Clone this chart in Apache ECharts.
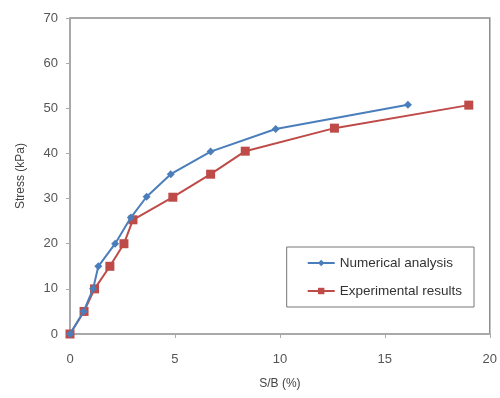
<!DOCTYPE html>
<html><head><meta charset="utf-8">
<script src="https://cdn.jsdelivr.net/npm/echarts@6/dist/echarts.min.js"></script>
<style>html,body{margin:0;padding:0;background:#fff}#c{width:500px;height:398px}</style>
</head><body><div id="c"></div>
<script>
const numericalSB = [0, 0.65, 1.1, 1.35, 2.15, 2.9, 3.65, 4.8, 6.7, 9.8, 16.1];
const numericalStress = [0, 5, 10, 15, 20, 25.8, 30.4, 35.4, 40.4, 45.4, 50.8];
const experimentalSB = [0, 0.67, 1.17, 1.9, 2.57, 3.0, 4.9, 6.7, 8.35, 12.6, 19.0];
const experimentalStress = [0, 5, 10, 15, 20, 25.3, 30.3, 35.4, 40.5, 45.6, 50.7];
const seriesNames = ['Numerical analysis', 'Experimental results'];

const pair = (xs, ys) => xs.map((x, i) => [x, ys[i]]);
const chart = echarts.init(document.getElementById('c'));
const font = 'Liberation Sans, Arial, sans-serif';
chart.setOption({
  animation: false,
  grid: {left: 70, right: 8, top: 18, bottom: 64, show: true, borderColor: '#8c8c8c', borderWidth: 1.5},
  legend: {
    right: 26, top: 247, orient: 'vertical', itemGap: 14,
    padding: [9, 12, 9, 20],
    borderColor: '#777', borderWidth: 1,
    itemWidth: 27, itemHeight: 8, itemStyle: {},
    textStyle: {fontFamily: font, fontSize: 13.5, color: '#333'},
    data: seriesNames
  },
  xAxis: {
    type: 'value', min: 0, max: 20, interval: 5,
    name: 'S/B (%)', nameLocation: 'middle', nameGap: 44,
    nameTextStyle: {fontFamily: font, fontSize: 12, color: '#444'},
    axisLine: {lineStyle: {color: '#aaa', width: 1.5}},
    axisTick: {show: true, inside: false, length: 4, lineStyle: {color: '#aaa'}},
    axisLabel: {fontFamily: font, fontSize: 13, color: '#555', margin: 19},
    splitLine: {show: false}
  },
  yAxis: {
    type: 'value', min: 0, max: 70, interval: 10,
    name: 'Stress (kPa)', nameLocation: 'middle', nameGap: 43,
    nameTextStyle: {fontFamily: font, fontSize: 12, color: '#444'},
    axisLine: {show: true, lineStyle: {color: '#aaa', width: 1.5}},
    axisTick: {show: true, length: 4, lineStyle: {color: '#aaa'}},
    axisLabel: {fontFamily: font, fontSize: 13, color: '#555', margin: 12},
    splitLine: {show: false}
  },
  series: [
    {
      name: seriesNames[0], type: 'line', data: pair(numericalSB, numericalStress),
      symbol: 'diamond', symbolSize: 8, z: 3,
      lineStyle: {color: '#4a7ebb', width: 2}, itemStyle: {color: '#4a7ebb'}
    },
    {
      name: seriesNames[1], type: 'line', data: pair(experimentalSB, experimentalStress),
      symbol: 'rect', symbolSize: 9, z: 2,
      lineStyle: {color: '#be4b48', width: 2}, itemStyle: {color: '#be4b48'}
    }
  ]
});
</script></body></html>
